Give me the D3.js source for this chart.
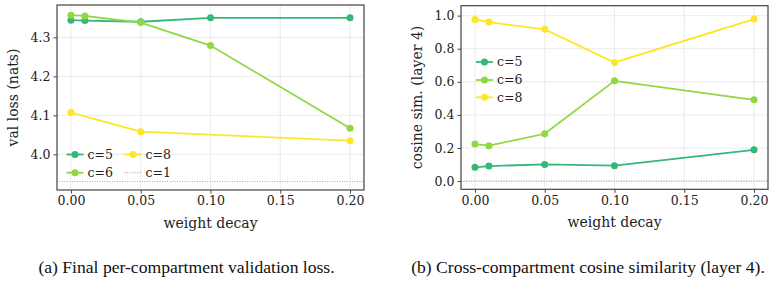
<!DOCTYPE html>
<html>
<head>
<meta charset="utf-8">
<script src="https://cdn.jsdelivr.net/npm/d3@7"></script>
<style>
  body { margin: 0; background: #fff; }
</style>
</head>
<body>
<div id="chart"></div>
<script>
const width = 775;
const height = 283;
const serif = "'DejaVu Serif', serif";

// weight decay values
const decay = [0.00, 0.01, 0.05, 0.10, 0.20];
const xTicks = [0.00, 0.05, 0.10, 0.15, 0.20];

// (a) final per-compartment validation loss
const lossC5 = [4.344, 4.343, 4.340, 4.350, 4.350];
const lossC6 = [4.357, 4.355, 4.338, 4.279, 4.067];
const lossC8 = [4.107, null, 4.058, null, 4.035];
const lossC1 = 3.930;
const lossTicks = [4.0, 4.1, 4.2, 4.3];

// (b) cross-compartment cosine similarity (layer 4)
const cosC5 = [0.083, 0.091, 0.101, 0.093, 0.189];
const cosC6 = [0.224, 0.214, 0.286, 0.606, 0.491];
const cosC8 = [0.977, 0.961, 0.917, 0.717, 0.979];
const cosTicks = [0.0, 0.2, 0.4, 0.6, 0.8, 1.0];

const colors = { c5: "#35b779", c6: "#90d743", c8: "#fde725" };

const svg = d3.select("#chart").append("svg")
    .attr("width", width)
    .attr("height", height);

const panel = (opts) => {
    const { x0, x1, y0, y1, yDomain, yTicks, yFormat, ylabel, series, refLine, legend, caption, captionX } = opts;

    const x = d3.scaleLinear().domain([-0.01, 0.21]).range([x0, x1]);
    const y = d3.scaleLinear().domain(yDomain).range([y1, y0]);

    const g = svg.append("g");

    // grid
    g.append("g").selectAll("line").data(xTicks).join("line")
        .attr("x1", d => x(d)).attr("x2", d => x(d))
        .attr("y1", y0).attr("y2", y1)
        .attr("stroke", "#e6e6e6").attr("stroke-width", 0.8);
    g.append("g").selectAll("line").data(yTicks).join("line")
        .attr("x1", x0).attr("x2", x1)
        .attr("y1", d => y(d)).attr("y2", d => y(d))
        .attr("stroke", "#e6e6e6").attr("stroke-width", 0.8);

    // reference dotted line
    g.append("line")
        .attr("x1", x0).attr("x2", x1)
        .attr("y1", y(refLine)).attr("y2", y(refLine))
        .attr("stroke", "#888").attr("stroke-width", 0.8)
        .attr("stroke-dasharray", "1,1.5");

    // series
    series.forEach(s => {
        const pts = decay.map((d, i) => [d, s.values[i]]).filter(p => p[1] != null);
        g.append("path")
            .datum(pts)
            .attr("fill", "none")
            .attr("stroke", s.color)
            .attr("stroke-width", 1.8)
            .attr("d", d3.line().x(p => x(p[0])).y(p => y(p[1])));
        g.append("g").selectAll("circle").data(pts).join("circle")
            .attr("cx", p => x(p[0])).attr("cy", p => y(p[1]))
            .attr("r", 3.5)
            .attr("fill", s.color);
    });

    // axes
    const xAxis = g.append("g")
        .attr("transform", `translate(0,${y1})`)
        .call(d3.axisBottom(x).tickValues(xTicks).tickFormat(d3.format(".2f")).tickSize(3.5).tickPadding(3));
    const yAxis = g.append("g")
        .attr("transform", `translate(${x0},0)`)
        .call(d3.axisLeft(y).tickValues(yTicks).tickFormat(d3.format(yFormat)).tickSize(3.5).tickPadding(3));
    [xAxis, yAxis].forEach(a => {
        a.attr("font-family", serif).attr("font-size", 12.5);
        a.select(".domain").remove();
        a.selectAll("line").attr("stroke", "#444").attr("stroke-width", 1);
        a.selectAll("text").attr("fill", "#222");
    });

    // frame
    g.append("rect")
        .attr("x", x0).attr("y", y0)
        .attr("width", x1 - x0).attr("height", y1 - y0)
        .attr("fill", "none")
        .attr("stroke", "#444").attr("stroke-width", 1.2);

    // labels
    g.append("text")
        .attr("x", (x0 + x1) / 2).attr("y", y1 + 38)
        .attr("text-anchor", "middle")
        .attr("fill", "#222")
        .attr("font-family", serif).attr("font-size", 14)
        .text("weight decay");
    g.append("text")
        .attr("transform", `translate(${x0 - 39},${(y0 + y1) / 2}) rotate(-90)`)
        .attr("text-anchor", "middle")
        .attr("fill", "#222")
        .attr("font-family", serif).attr("font-size", 14)
        .text(ylabel);

    // legend
    legend.forEach(item => {
        const lg = g.append("g").attr("transform", `translate(${item.lx},${item.ly})`);
        if (item.dotted) {
            lg.append("line").attr("x1", 0).attr("x2", 17).attr("y1", 0).attr("y2", 0)
                .attr("stroke", "#888").attr("stroke-width", 0.8).attr("stroke-dasharray", "1,1.5");
        } else {
            lg.append("line").attr("x1", 0).attr("x2", 17).attr("y1", 0).attr("y2", 0)
                .attr("stroke", item.color).attr("stroke-width", 1.8);
            lg.append("circle").attr("cx", 8.5).attr("cy", 0).attr("r", 3.5).attr("fill", item.color);
        }
        lg.append("text").attr("x", 21).attr("y", 0).attr("dy", "0.35em")
            .attr("fill", "#222")
            .attr("font-family", serif).attr("font-size", 12.5)
            .text(item.label);
    });

    svg.append("text")
        .attr("x", captionX).attr("y", 273)
        .attr("text-anchor", "middle")
        .attr("fill", "#111")
        .attr("font-family", "'Liberation Serif', 'Times New Roman', serif")
        .attr("font-size", 17.6)
        .text(caption);
};

panel({
    x0: 57, x1: 364, y0: 5, y1: 190,
    yDomain: [3.9085, 4.383], yTicks: lossTicks, yFormat: ".1f",
    ylabel: "val loss (nats)",
    series: [
        { values: lossC5, color: colors.c5 },
        { values: lossC6, color: colors.c6 },
        { values: lossC8, color: colors.c8 }
    ],
    refLine: lossC1,
    legend: [
        { label: "c=5", color: colors.c5, lx: 66.5, ly: 154.5 },
        { label: "c=6", color: colors.c6, lx: 66.5, ly: 172.7 },
        { label: "c=8", color: colors.c8, lx: 124.5, ly: 154.5 },
        { label: "c=1", dotted: true, lx: 124.5, ly: 172.7 }
    ],
    caption: "(a) Final per-compartment validation loss.",
    captionX: 186.5
});

panel({
    x0: 461, x1: 768, y0: 5.7, y1: 189.3,
    yDomain: [-0.0495, 1.06], yTicks: cosTicks, yFormat: ".1f",
    ylabel: "cosine sim. (layer 4)",
    series: [
        { values: cosC5, color: colors.c5 },
        { values: cosC6, color: colors.c6 },
        { values: cosC8, color: colors.c8 }
    ],
    refLine: 0,
    legend: [
        { label: "c=5", color: colors.c5, lx: 476, ly: 62 },
        { label: "c=6", color: colors.c6, lx: 476, ly: 80 },
        { label: "c=8", color: colors.c8, lx: 476, ly: 97.3 }
    ],
    caption: "(b) Cross-compartment cosine similarity (layer 4).",
    captionX: 588
});
</script>
</body>
</html>
